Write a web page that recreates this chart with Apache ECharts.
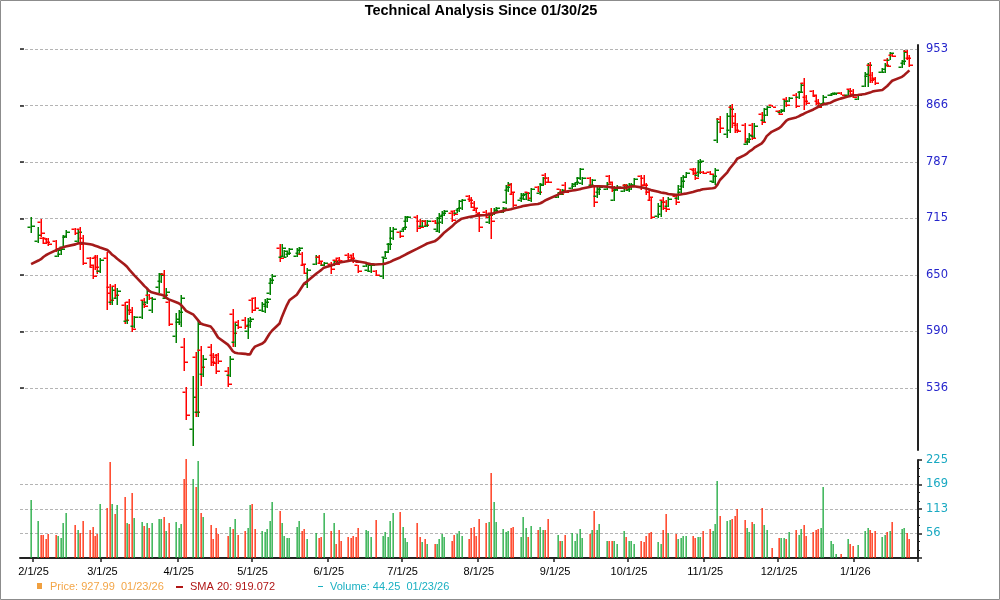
<!DOCTYPE html>
<html><head><meta charset="utf-8">
<script src="https://cdn.jsdelivr.net/npm/echarts@6/dist/echarts.min.js"></script>
<style>html,body{margin:0;padding:0;background:#fff}#c{width:1000px;height:600px}</style>
</head><body><div id="c"></div>
<script>
// ---------------- data ----------------
const titleText = 'Technical Analysis Since 01/30/25';
const priceTicks = [536, 590, 650, 715, 787, 866, 953];
const volumeMax = 225;
const xTickLabels = ['2/1/25','3/1/25','4/1/25','5/1/25','6/1/25','7/1/25','8/1/25','9/1/25','10/1/25','11/1/25','12/1/25','1/1/26'];
const holidays = ['2/17/25','4/18/25','5/26/25','6/19/25','7/4/25','9/1/25','11/27/25','12/25/25','1/1/26','1/19/26'];

const open = [
704,688,710,692,691,690,688,671,673,681,693,702,688,702,692,668,658,668,669,654,
668,636,620,637,624,617,601,620,612,595,605,622,620,628,612,636,643,650,625,620,585,
600,600,575,532,500,565,515,572,549,575,567,565,567,552,548,608,580,600,602,590,596,
622,624,612,611,616,630,641,680,670,671,670,673,671,674,673,660,640,662,670,663,660,
662,660,666,668,666,672,670,672,665.5,660,659,655,654,654,648,670,675,684,692,698,
700,702,712,717,712,706,712,706,712,702,700,710,719,722,724,722,725,727,742,739,734,725,
720,723,710,722,720,722,723,735,750,756,745,737,740,739,747,738,754,746,758,770,765,
741,751,745,757,753,755,758,765,759,765,757,755,742,747,752,768,758,738,750,749,757,
750,751,756,768,766,757,748,738,718,720,738,735,730,742,740,748,755,767,777,776,769,773,774,
774,762,760,816,846,825,830,864,850,838,837,811,814,838,822,854,845,852,866,
858,856,858,875,872,882,878,886,900,879,888,880,872,865,868,881,882,882.5,885,882,890,888,
875,895,910,928,912,907,916,917,935,936,944,924,930,950,938
];
const high = [
717,704,714,693,692,692,689,680,680,695,701,703,701,704,695,670,661,672,672,668,
675,639,636,640,635,620,617,623,615,606,621,624,635,629,626,652,651,655,635,623,609,
612,628,583,537,547,570,603,576,567,578,569,568,569,555,566,613,599,602,605,604,605,
625,626,620,623,625,646,650,684,684,678,676,680,680,681,675,661,657,672,672,664,664,
664,666,667,670,666.5,674,672,674,666,661,663,663,663,655,670,676,686,704,704,699,
705,718,718,719,714,713,713,713,713,717,721,724,725,724,725,728,738,739,744,741,736,726,
723,725,721,727,728,729,729,757,760,759,746,746,746,748,748,753,755,759,767,772,767,
748,752,751,760,759,761,767,779,767,767,764,757,755,756,760,770,760,755,756,758,758,
759,759,766,770,770,759,750,740,734,738,741,738,741,744,757,767,770,774,779,779,789,791,775,
775,770,779,848,850,855,866,868,855,840,840,820,826,840,840,856,862,865,867,
859,860,874,878,878,885,888,899,907,881,889,882,875,870,881,885,885,885,886,890,892,890,
883,916,931,932,916,909,923,930,938,948,944.5,935,951,951,943
];
const low = [
697,686,693,684,685,682,675,670,672,680,692,695,686,678,661,658,645,655,650,651,
612,617,617,624,617,598,598,607,589,593,603,614,618,622,609,630,641,623,623,595,579,
597,594,552,508,486,510,510,538,546,556,556,549,558,537,546,575,575,592,592,582,593,
609,611,611,609,614,628,639,664,669,669,669,672,669,672,659,650,635,661,663,659,659,
650,659,661,663,663,664,666,663,663,652,658,653,652,648,645,669,674,678,689,692,
699,701,711,699,702,705,705,705,708,699,697,708,718,711,718,721,723,725,735,727,725,721,
699,715,708,690,719,721,722,733,747,744,729,735,739,738,738,735,747,744,757,757,759,
740,744,744,746,752,754,757,763,757,755,755,729,740,744,750,759,748,736,749,748,750,
748,750,754,750,755,744,738,714,715,716,725,723,729,731,738,746,753,766,770,763,767,771,771,
770,760,757,812,826,820,826,834,826,826,812,810,812,817,820,838,842,850,863,
852,855,857,864,871,862,876,884,859,867,880,866,862,864,866,880,881,882,881,880,880,877,
874,893,894,899,899,896,915,915,924,935,940,922,927,935,924
];
const close = [
706,695,697,686,687,684,679,678,679,694,699,697,699,684,663,660,648,658,654,666,
630,622,633,628,632,602,612,610,592,605,618,616,632,624,623,650,649,628,631,598,603,
610,624,560,512,528,515,598,555,563,560,559,552,561,540,563,588,596,594,595,601,603,
612,614,618,620,623,644,648,668,680,676,674,679,678,680,662,652,655,670,665,661,663,
656,665,662,665,664,666,668,665,664,654,662,661,660,649,668,675,684,700,702,694,
704,716,717,703,705,712,707,712,709,715,718,722,724,713,720,727,736,737,737,729,727,722,
705,717,719,712,725,727,728,754,758,747,731,744,745,746,740,751,748,757,765,760,760,
747,745,750,748,758,760,765,777,765,757,763,735,752,754,758,761,750,752,754,756,752,
757,757,764,756,757,748,741,716,730,735,728,726,739,735,752,762,767,772,772,766,786,788,772,
771,768,776,842,834,850,860,840,830,829,815,818,823,820,836,842,860,863,864,
854,859,872,866,877,865,886,897,872,869,882,869,864,869,879,884,884,884.5,882,888,883,879,
881,914,928,904,905,900,921,928,926,946,941,933,948,938,927.99
];
const volume = [
134,86,53,52,43,55,53,51,46,80,104,76,65,57,86,64,72,51,55,123,
114,221,125,100,121,139,80,79,149,92,83,74,80,69,80,90,90,95,62,80,83,
69,78,181,228,181,162,223,104,94,76,43,69,55,50,71,67,90,53,62,69,122,
125,66,62,59,66,85,129,108,80,51,45,45,72,86,62,66,43,57,45,48,104,
62,80,33,64,38,48,45,50,48,69,64,62,48,87,50,59,48,85,104,106,
71,45,36,80,48,36,43,33,33,33,43,55,48,38,53,55,62,50,43,69,71,50,
90,80,83,195,129,83,67,59,62,69,72,48,95,69,48,73,64,71,64,64,90,
52,38,40,52,57,40,55,66,45,55,64,108,64,78,40,38,38,38,33,62,48,
38,38,31,40,36,50,57,59,36,33,64,101,57,55,43,45,50,50,50,45,48,48,62,
66,62,78,176,97,85,87,90,97,113,87,69,59,83,78,115,76,64,22,
45,45,45,43,59,64,52,66,76,50,59,64,66,69,164,38,31,10,10,43,31,27,
29,62,69,64,57,62,48,52,59,62,83,66,69,57,44.25
];
const sma20 = [
661.5,665.5,667,669.5,671.5,673,677,678.5,679.5,680.5,681.5,684,685,685.4,685.4,684.2,683.5,682.5,681.5,680.3,
677.5,675,672,670,667.5,661,658.5,655,652,649,640.5,637.5,635,632,630.5,628.5,628,627,624.5,623,620,
619,617,614,611,607,604,601,598,597,595,592,588,584,577,574,570.5,569,568.5,568,567.5,567.5,
572,575,578,580,584,588,591,598,605,611,617,622,628,632,636,640,642,651,653,655,657.5,
660,661,662,663,663.5,665,665.5,665.5,665,664.5,663,662,661.5,661,661.5,662,663,664,665.5,669,
670.5,672,673.5,679,680.5,682,683.5,685,687.5,689.5,692,695,698,705,708,710.5,712.5,714.5,716.5,717,717.5,718,
718.5,719,719.5,720.5,721,722,724,725,725.5,726,727,729,730,730.5,731,731.5,732.5,733.5,735,737,738.5,
744,746,747,748,749.5,750,750.5,751,752,754,754.5,755,755,755,754.5,754,753.5,753,753,753,753.5,
754,754.5,755,753.5,753,752,751,750,748,747,746.5,746,745,744,744,744.5,745,745.5,747.5,748.5,749.5,750,751,
752,752.3,753,757,763,773,778,782,786,791,796,798,801,803,806,812,816,822,828,
833,836,840,844,846,848.5,850,852,853.5,855.5,860,862,864,866,867.5,870,872,873.5,876,879,880,881,
881.5,883,884,885,886.5,887.5,889,892,895,899,903,909,912,915.5,919.072
];

// ---------------- calendar (category axis = calendar days) ----------------
const DAY = 86400000;
const axisStart = Date.UTC(2025, 0, 27);
const axisDays = 365;
const firstTrade = Date.UTC(2025, 0, 31);
function fmt(t){ const d = new Date(t); return (d.getUTCMonth()+1)+'/'+d.getUTCDate()+'/'+String(d.getUTCFullYear()).slice(2); }
function fmtPad(t){ const d = new Date(t); const p = n => String(n).padStart(2,'0'); return p(d.getUTCMonth()+1)+'/'+p(d.getUTCDate())+'/'+String(d.getUTCFullYear()).slice(2); }
const cats = [];
for (let i = 0; i < axisDays; i++) cats.push(fmt(axisStart + i*DAY));
const tradeIdx = [];
let lastTradeT = firstTrade;
for (let t = firstTrade; tradeIdx.length < close.length; t += DAY) {
  const wd = new Date(t).getUTCDay();
  if (wd !== 0 && wd !== 6 && holidays.indexOf(fmt(t)) < 0) { tradeIdx.push(Math.round((t - axisStart)/DAY)); lastTradeT = t; }
}
[open, high, low, volume, sma20].forEach(a => { if (a.length !== close.length) throw new Error('length mismatch ' + a.length); });

const ohlcData = close.map((c, i) => [tradeIdx[i], open[i], high[i], low[i], c]);
const smaData = sma20.map((v, i) => [tradeIdx[i], v]);
const volData = volume.map((v, i) => [tradeIdx[i], v, close[i] >= open[i] ? 1 : 0]);

// ---------------- layout ----------------
const L = 20, R = 82;
const pTop = 45, pBottom = 450;         // price pane
const lTop = 49, lBottom = 388;         // y of top / bottom price tick
const step = (lBottom - lTop) / (priceTicks.length - 1);
const ratio = Math.pow(priceTicks[priceTicks.length-1] / priceTicks[0], 1 / (priceTicks.length - 1));
const logMin = priceTicks[0] / Math.pow(ratio, (pBottom - lBottom) / step);
const logMax = priceTicks[priceTicks.length-1] * Math.pow(ratio, (lTop - pTop) / step);

const isTick = (idx, val) => xTickLabels.indexOf(val) >= 0;
const last = close.length - 1;
const lastDate = fmtPad(lastTradeT);
const legFont = '11px "Liberation Sans", Arial, sans-serif';

function renderOHLC(params, api) {
  const xi = api.value(0), o = api.value(1), h = api.value(2), l = api.value(3), c = api.value(4);
  const pH = api.coord([xi, h]), pL = api.coord([xi, l]), pO = api.coord([xi, o]), pC = api.coord([xi, c]);
  const x = Math.round(pH[0]);
  const col = c >= o ? '#008000' : '#ff0000';
  const st = { fill: col };
  const yH = Math.round(pH[1]), yL = Math.max(Math.round(pL[1]), yH + 2);
  const yo = Math.round(pO[1]), yc = Math.round(pC[1]);
  return { type: 'group', children: [
    { type: 'rect', shape: { x: x - 0.5, y: yH, width: 1.5, height: yL - yH }, style: st },
    { type: 'rect', shape: { x: x - 3.5, y: yo - 0.5, width: 3, height: 1.5 }, style: st },
    { type: 'rect', shape: { x: x + 1, y: yc - 0.5, width: 3, height: 1.5 }, style: st }
  ]};
}
function renderVol(params, api) {
  const xi = api.value(0), v = api.value(1), up = api.value(2);
  const pT = api.coord([xi, v]), pB = api.coord([xi, 0]);
  const x = Math.round(pT[0]);
  return { type: 'rect', shape: { x: x - 0.5, y: Math.round(pT[1]), width: 1.3, height: Math.round(pB[1]) - Math.round(pT[1]) },
           style: { fill: up ? '#19a83a' : '#ff2200' } };
}

const chart = echarts.init(document.getElementById('c'), null, { renderer: 'canvas' });
chart.setOption({
  animation: false,
  backgroundColor: '#ffffff',
  grid: [
    { left: L, right: R, top: pTop, height: pBottom - pTop },
    { left: L, right: R, top: lTop, height: lBottom - lTop },
    { left: L, right: R, top: 460, height: 98 }
  ],
  xAxis: [
    { type: 'category', gridIndex: 0, data: cats, boundaryGap: true, show: false },
    { type: 'value', gridIndex: 1, min: 0, max: 1, show: false },
    { type: 'category', gridIndex: 2, data: cats, boundaryGap: true,
      axisLine: { show: true, lineStyle: { color: '#222', width: 2 } },
      axisTick: { show: true, interval: isTick, length: 4, lineStyle: { color: '#222', width: 1.5 } },
      axisLabel: { show: true, interval: isTick, color: '#000', fontSize: 11, fontFamily: '"Liberation Sans", Arial, sans-serif', margin: 8 },
      splitLine: { show: false } }
  ],
  yAxis: [
    { type: 'log', gridIndex: 0, position: 'right', min: logMin, max: logMax,
      axisLine: { show: true, lineStyle: { color: '#222', width: 2 } },
      axisTick: { show: false }, axisLabel: { show: false }, splitLine: { show: false } },
    { type: 'value', gridIndex: 1, position: 'right', min: 0, max: priceTicks.length - 1, interval: 1,
      axisLine: { show: false },
      axisTick: { show: true, length: 4, lineStyle: { color: '#222', width: 1.5 } },
      axisLabel: { formatter: v => { const k = Math.round(v); return Math.abs(v - k) < 1e-6 && priceTicks[k] != null ? String(priceTicks[k]) : ''; },
                   color: '#2626cc', fontSize: 11.5, fontFamily: '"DejaVu Sans", Verdana, sans-serif', margin: 8 },
      splitLine: { show: true, lineStyle: { color: '#b4b4b4', width: 1, type: [3, 2] } } },
    { type: 'value', gridIndex: 2, position: 'right', min: 0, max: volumeMax, interval: volumeMax / 4,
      axisLine: { show: true, lineStyle: { color: '#222', width: 2 } },
      axisTick: { show: true, length: 4, lineStyle: { color: '#222', width: 1.5 } },
      minorTick: { show: true, splitNumber: 3, length: 2, lineStyle: { color: '#222' } },
      axisLabel: { formatter: v => v === 0 ? '' : String(Math.round(v)), color: '#1aa9c2', fontSize: 11.5,
                   fontFamily: '"DejaVu Sans", Verdana, sans-serif', margin: 8 },
      splitLine: { show: true, showMinLine: false, showMaxLine: false, lineStyle: { color: '#b4b4b4', width: 1, type: [3, 2] } } }
  ],
  series: [
    { type: 'custom', name: 'Price', xAxisIndex: 0, yAxisIndex: 0, data: ohlcData,
      encode: { x: 0, y: [1, 2, 3, 4] }, renderItem: renderOHLC, z: 2, silent: true },
    { type: 'line', name: 'SMA 20', xAxisIndex: 0, yAxisIndex: 0, data: smaData, symbol: 'none',
      lineStyle: { color: '#a41a1a', width: 2.6 }, z: 3, silent: true },
    { type: 'custom', name: 'Volume', xAxisIndex: 2, yAxisIndex: 2, data: volData,
      encode: { x: 0, y: 1 }, renderItem: renderVol, z: 2, silent: true }
  ],
  graphic: [
    { type: 'rect', z: 100, shape: { x: 0.5, y: 0.5, width: 999, height: 599 }, style: { fill: 'none', stroke: '#8c8c8c', lineWidth: 1 } },
    { type: 'text', x: 481, y: 11, style: { text: titleText, fill: '#000', font: 'bold 14.5px "Liberation Sans", Arial, sans-serif', align: 'center', verticalAlign: 'middle' } },
    { type: 'rect', shape: { x: 37, y: 583, width: 5, height: 6 }, style: { fill: '#f0a040' } },
    { type: 'text', x: 50, y: 587, style: { text: 'Price: ' + close[last].toFixed(2) + '  ' + lastDate, fill: '#f3a547', font: legFont, verticalAlign: 'middle' } },
    { type: 'rect', shape: { x: 176, y: 586, width: 7, height: 2 }, style: { fill: '#b01515' } },
    { type: 'text', x: 190, y: 587, style: { text: 'SMA 20: ' + sma20[last], fill: '#b01515', font: legFont, verticalAlign: 'middle' } },
    { type: 'rect', shape: { x: 318, y: 586, width: 5, height: 1 }, style: { fill: '#1ab0c2' } },
    { type: 'text', x: 330, y: 587, style: { text: 'Volume: ' + volume[last].toFixed(2) + '  ' + lastDate, fill: '#1ab0c2', font: legFont, verticalAlign: 'middle' } }
  ]
});
</script>
</body></html>
